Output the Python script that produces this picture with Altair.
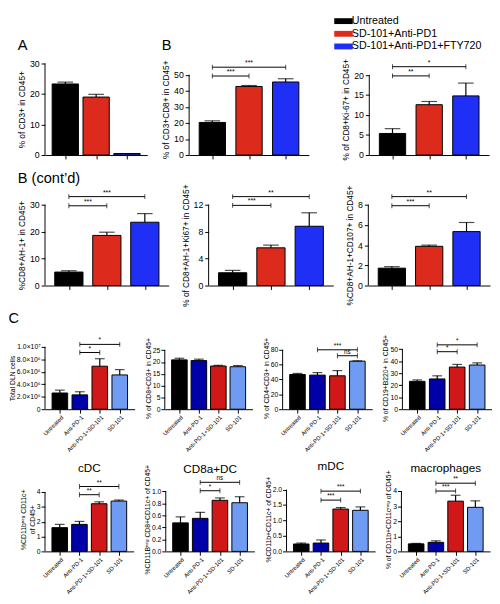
import json
import altair as alt
import pandas as pd

FONT = "Liberation Sans"

# ---------------- data ----------------
groups3 = ["Untreated", "SD-101+Anti-PD1", "SD-101+Anti-PD1+FTY720"]
colors3 = ["#000000", "#dc2a1c", "#1f2ff5"]
groups4 = ["Untreated", "Anti-PD-1", "Anti-PD-1+SD-101", "SD-101"]
colors4 = ["#000000", "#0000a8", "#d01818", "#6f9cf2"]

# A
cd3_vals = [23.3, 19.0, 0.5]
cd3_errs = [0.6, 0.9, 0.0]
cd3_ticks = [0, 10, 20, 30]

# B
cd3cd8_vals = [20.3, 42.7, 45.5]
cd3cd8_errs = [1.0, 0.6, 2.0]
cd3cd8_ticks = [0, 10, 20, 30, 40, 50]
cd3cd8_sig = [(0, 1, 49.2, "***"), (0, 2, 54.7, "***")]

ki67_vals = [5.4, 12.6, 14.8]
ki67_errs = [1.2, 0.8, 3.2]
ki67_ticks = [0, 5, 10, 15, 20]
ki67_sig = [(0, 1, 19.8, "**"), (0, 2, 22.1, "*")]

# B (cont'd)
ah1_vals = [5.0, 18.6, 23.5]
ah1_errs = [0.5, 1.2, 3.2]
ah1_ticks = [0, 10, 20, 30]
ah1_sig = [(0, 1, 29.6, "***"), (0, 2, 33.0, "***")]

ah1ki_vals = [1.9, 5.6, 8.8]
ah1ki_errs = [0.35, 0.4, 2.0]
ah1ki_ticks = [0, 4, 8, 12]
ah1ki_sig = [(0, 1, 11.9, "***"), (0, 2, 13.2, "**")]

cd107_vals = [1.72, 3.88, 5.34]
cd107_errs = [0.15, 0.12, 0.9]
cd107_ticks = [0, 2, 4, 6, 8]
cd107_sig = [(0, 1, 7.9, "***"), (0, 2, 8.8, "**")]

# C, first row
dln_vals = [2.6e6, 2.3e6, 6.9e6, 5.5e6]
dln_errs = [0.46e6, 0.5e6, 1.2e6, 0.85e6]
dln_ticks = [0, 2e6, 4e6, 6e6, 8e6, 1e7]
dln_sig = [(1, 2, 0.91e7, "*"), (1, 3, 1.04e7, "*")]

cd8cd3_vals = [20.9, 20.6, 18.3, 18.0]
cd8cd3_errs = [0.7, 0.6, 0.3, 0.5]
cd8cd3_ticks = [0, 5, 10, 15, 20, 25]
cd8cd3_sig = []

cd4cd3_vals = [46.7, 45.9, 45.0, 64.7]
cd4cd3_errs = [1.5, 3.4, 7.0, 0.4]
cd4cd3_ticks = [0, 20, 40, 60, 80]
cd4cd3_sig = [(2, 3, 72.0, "ns"), (1, 3, 80.0, "***")]

b220_vals = [23.2, 25.2, 35.1, 36.8]
b220_errs = [1.2, 2.6, 2.2, 1.8]
b220_ticks = [0, 10, 20, 30, 40, 50]
b220_sig = [(1, 2, 47.9, "*"), (1, 3, 53.6, "*")]

# C, second row
cdc_vals = [1.6, 1.82, 3.21, 3.39]
cdc_errs = [0.22, 0.2, 0.13, 0.07]
cdc_ticks = [0, 1, 2, 3, 4]
cdc_sig = [(1, 2, 3.82, "**"), (1, 3, 4.37, "**")]

cd8adc_vals = [0.475, 0.55, 0.85, 0.81]
cd8adc_errs = [0.1, 0.1, 0.04, 0.1]
cd8adc_ticks = [0, 0.2, 0.4, 0.6, 0.8, 1.0]
cd8adc_sig = [(1, 2, 1.01, "*"), (1, 3, 1.15, "ns")]

mdc_vals = [0.24, 0.27, 1.37, 1.33]
mdc_errs = [0.03, 0.1, 0.05, 0.11]
mdc_ticks = [0, 0.5, 1.0, 1.5, 2.0]
mdc_sig = [(1, 2, 1.66, "***"), (1, 3, 1.95, "***")]

mac_vals = [0.5, 0.6, 3.33, 2.92]
mac_errs = [0.03, 0.1, 0.39, 0.43]
mac_ticks = [0, 1, 2, 3, 4]
mac_sig = [(1, 2, 4.0, "***"), (1, 3, 4.52, "**")]


# ---------------- builder ----------------
def panel(cats, cols, vals, errs, ticks, dmax, sig, width, height, ytitle,
          xlabels=False, bar=27, cap=16, lab_fs=9, ttl_fs=8.5, x_fs=6,
          sig_fs=7, yfmt="d", ylabel_expr=None, title=None, legend=None,
          tpad=3, lpad=2):
    n = len(cats)
    df = pd.DataFrame({"idx": list(range(n)), "cat": cats, "color": cols,
                       "val": vals, "err": errs})
    df["top"] = df["val"] + df["err"]
    xs = alt.Scale(domain=[-0.5, n - 0.5], nice=False, zero=False)
    ys = alt.Scale(domain=[0, dmax], nice=False, zero=True)
    xa = alt.Axis(values=list(range(n)), title=None, grid=False, labels=xlabels,
                  labelExpr=json.dumps(cats) + "[datum.value]", labelAngle=-45,
                  labelFontSize=x_fs, labelColor="black", labelOverlap=False,
                  labelFlush=False, labelPadding=1, tickSize=4, tickColor="black",
                  tickWidth=1, domainColor="black", domainWidth=1, labelFont=FONT)
    ya_kw = dict(values=ticks, title=ytitle, grid=False, domain=False, tickSize=4,
                 tickColor="black", tickWidth=1, labelFontSize=lab_fs,
                 labelColor="black", labelOverlap=False, labelFlush=False,
                 labelPadding=lpad, titleFontSize=ttl_fs, titleFontWeight="normal",
                 titleColor="black", titlePadding=tpad, labelFont=FONT, titleFont=FONT)
    if ylabel_expr:
        ya_kw["labelExpr"] = ylabel_expr
    else:
        ya_kw["format"] = yfmt
    ya = alt.Axis(**ya_kw)

    def X(f):
        return alt.X(f, scale=xs, axis=xa)

    def Y(f):
        return alt.Y(f, scale=ys, axis=ya)

    if legend is not None:
        color = alt.Color("cat:N", scale=alt.Scale(domain=cats, range=cols), legend=legend)
    else:
        color = alt.Color("color:N", scale=None)

    base = alt.Chart(df)
    layers = [
        base.mark_bar(size=bar, stroke="black", strokeWidth=1, orient="vertical").encode(
            x=X("idx:Q"), y=Y("val:Q"), color=color),
        base.transform_filter("datum.err > 0").mark_rule(color="black", strokeWidth=1.2).encode(
            x=X("idx:Q"), y=Y("val:Q"), y2="top:Q"),
        base.transform_filter("datum.err > 0").mark_tick(
            orient="horizontal", size=cap, thickness=1.2, color="black").encode(
            x=X("idx:Q"), y=Y("top:Q")),
        alt.Chart(pd.DataFrame({"lo": [ticks[0]], "hi": [ticks[-1]]})).mark_rule(
            color="black", strokeWidth=1).encode(x=alt.value(0), y=Y("lo:Q"), y2="hi:Q"),
    ]
    if sig:
        br = pd.DataFrame(sig, columns=["i", "j", "lvl", "label"])
        br["xm"] = (br["i"] + br["j"]) / 2
        ends = pd.DataFrame({"xe": list(br["i"]) + list(br["j"]),
                             "lvl": list(br["lvl"]) * 2})
        layers += [
            alt.Chart(br).mark_rule(color="black", strokeWidth=1).encode(
                x=X("i:Q"), x2="j:Q", y=Y("lvl:Q")),
            alt.Chart(ends).mark_tick(orient="vertical", size=5, thickness=1,
                                      color="black").encode(x=X("xe:Q"), y=Y("lvl:Q")),
            alt.Chart(br).mark_text(baseline="bottom", dy=-1, fontSize=sig_fs,
                                    font=FONT, color="black").encode(
                x=X("xm:Q"), y=Y("lvl:Q"), text="label:N"),
        ]
    props = dict(width=width, height=height)
    if title is not None:
        props["title"] = title
    return alt.layer(*layers).properties(**props)


def letter(text, offset):
    return alt.TitleParams(text=text, anchor="start", frame="bounds", fontSize=15,
                           fontWeight="normal", font=FONT, color="black", offset=offset)


def head(text, offset):
    return alt.TitleParams(text=text, anchor="middle", frame="group", fontSize=12,
                           fontWeight="normal", font=FONT, color="black", offset=offset)


# ---------------- rows ----------------
H1, H2, H3, H4 = 94, 83, 64, 66

legend = alt.Legend(orient="none", legendX=-32, legendY=-49, title=None,
                    padding=0, offset=0, titlePadding=0,
                    symbolType="M-1.9,-0.6H1.9V0.6H-1.9Z", symbolSize=100,
                    symbolStrokeWidth=0, labelFontSize=11, labelFont=FONT,
                    labelColor="black", rowPadding=1, labelOffset=3, labelLimit=300)

pA = panel(groups3, colors3, cd3_vals, cd3_errs, cd3_ticks, 30, [], 105, H1,
           "% of CD3+ in CD45+", title=letter("A", 7))
pB1 = panel(groups3, colors3, cd3cd8_vals, cd3cd8_errs, cd3cd8_ticks, 57, cd3cd8_sig,
            123, H1, "% of CD3+CD8+ in CD45+", title=letter("B", 7))
pB2 = panel(groups3, colors3, ki67_vals, ki67_errs, ki67_ticks, 22.9, ki67_sig,
            123, H1, "% of CD8+Ki-67+ in CD45+", legend=legend)
row1 = alt.hconcat(
    pA,
    alt.hconcat(pB1, pB2, spacing=30).resolve_scale(color="independent"),
    spacing=14,
).resolve_scale(color="independent")

pC1 = panel(groups3, colors3, ah1_vals, ah1_errs, ah1_ticks, 30, ah1_sig, 127, H2,
            "%CD8+AH-1+ in CD45+", bar=29, title=letter("B (cont\u2019d)", 3))
pC2 = panel(groups3, colors3, ah1ki_vals, ah1ki_errs, ah1ki_ticks, 12, ah1ki_sig, 128, H2,
            "% of CD8+AH-1+Ki67+ in CD45+", bar=29)
pC3 = panel(groups3, colors3, cd107_vals, cd107_errs, cd107_ticks, 8, cd107_sig, 125, H2,
            "%CD8+AH-1+CD107+ in CD45+", bar=28)
row2 = alt.hconcat(pC1, pC2, pC3, spacing=12)

small = dict(xlabels=True, bar=16, cap=10, lab_fs=7, ttl_fs=7, x_fs=6, sig_fs=6.5,
             tpad=1, lpad=1)
dln_expr = ("datum.value == 0 ? '0' : (datum.value >= 1e7 ? format(datum.value / 1e7, '.1f') + '\u00d710\u2077'"
            " : format(datum.value / 1e6, '.1f') + '\u00d710\u2076')")
pD1 = panel(groups4, colors4, dln_vals, dln_errs, dln_ticks, 1e7, dln_sig, 92, H3,
            "Total DLN cells", ylabel_expr=dln_expr, title=letter("C", 12), **small)
pD2 = panel(groups4, colors4, cd8cd3_vals, cd8cd3_errs, cd8cd3_ticks, 26.4, cd8cd3_sig, 90, H3,
            "% of CD8+CD3+ in CD45+", **small)
pD3 = panel(groups4, colors4, cd4cd3_vals, cd4cd3_errs, cd4cd3_ticks, 83.9, cd4cd3_sig, 92, H3,
            "% of CD4+CD3+ in CD45+", **small)
pD4 = panel(groups4, colors4, b220_vals, b220_errs, b220_ticks, 51.9, b220_sig, 92, H3,
            "% of CD19+B220+ in CD45+", **small)
row3 = alt.hconcat(pD1, pD2, pD3, pD4, spacing=10)

pE1 = panel(groups4, colors4, cdc_vals, cdc_errs, cdc_ticks, 4.33, cdc_sig, 91, H4,
            ["%CD11b\u207f\u1d49\u1d4d CD11c+", "of CD45+"], title=head("cDC", 5), **small)
pE2 = panel(groups4, colors4, cd8adc_vals, cd8adc_errs, cd8adc_ticks, 1.07, cd8adc_sig, 91, H4,
            "%CD11B\u207f\u1d49\u1d4d CD8+CD11c+ of CD45+", yfmt=".1f",
            title=head("CD8a+DC", -12), **small)
pE3 = panel(groups4, colors4, mdc_vals, mdc_errs, mdc_ticks, 2.08, mdc_sig, 91, H4,
            "%CD11b+CD11c+ of CD45+", yfmt=".1f", title=head("mDC", 3), **small)
pE4 = panel(groups4, colors4, mac_vals, mac_errs, mac_ticks, 4.26, mac_sig, 91, H4,
            "% of CD11b+CD11c\u207f\u1d49\u1d4d of CD45+", title=head("macrophages", -5), **small)
row4 = alt.hconcat(pE1, pE2, pE3, pE4, spacing=10)

top = alt.vconcat(row1, row2, spacing=10).resolve_scale(color="independent")
bottom = alt.vconcat(row3, row4, spacing=7)
chart = (
    alt.vconcat(top, bottom, spacing=4)
    .resolve_scale(color="independent")
    .properties(padding={"left": 0, "top": 0, "right": 0, "bottom": 0})
    .configure(font=FONT)
    .configure_view(stroke=None)
)

chart.save("out.html", embed_options={"renderer": "svg", "actions": False})
